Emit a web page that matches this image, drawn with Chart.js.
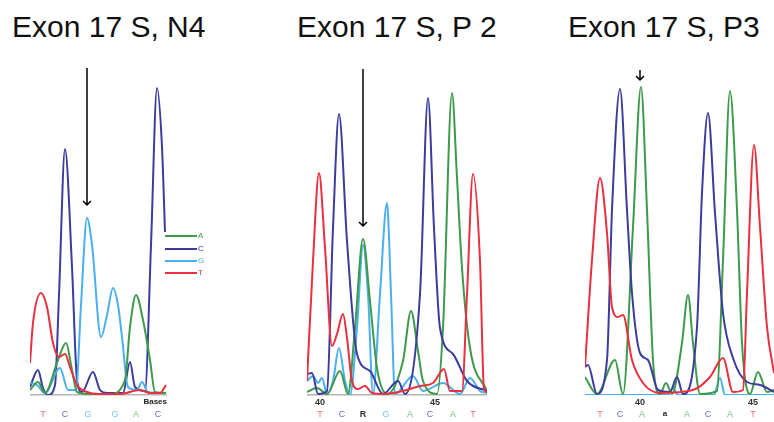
<!DOCTYPE html>
<html>
<head>
<meta charset="utf-8">
<script src="https://cdn.jsdelivr.net/npm/chart.js@4/dist/chart.umd.min.js"></script>
<style>
  body { margin: 0; background: #fff; }
  #wrap { position: relative; width: 774px; height: 422px; overflow: hidden; background: #fff; }
  .title { position: absolute; top: 12px; font: 30px "Liberation Sans", Arial, sans-serif; line-height: 30px; color: #111; white-space: nowrap; }
  canvas { position: absolute; top: 60px; }
  .lg { position: absolute; left: 165px; width: 32px; height: 2px; }
  .lgt { position: absolute; left: 198px; font: 8px "Liberation Sans", Arial, sans-serif; line-height: 8px; }
</style>
</head>
<body>
<div id="wrap">
  <div class="title" style="left:12px">Exon 17 S, N4</div>
  <div class="title" style="left:297px">Exon 17 S, P 2</div>
  <div class="title" style="left:568px">Exon 17 S, P3</div>
  <canvas id="p1" width="137" height="362" style="left:30px"></canvas>
  <canvas id="p2" width="180" height="362" style="left:307px"></canvas>
  <canvas id="p3" width="189" height="362" style="left:585px"></canvas>
  <div id="legend"></div>
</div>
<script>
// trace colours per base
const baseNames = ['A', 'C', 'G', 'T'];
const colA = '#3d9a4a', colC = '#3c3c9c', colG = '#4ab0ef', colT = '#e8303e';

// ---- panel 1: Exon 17 S, N4 (x = scan position, y = signal) ----
const n4_A_x = [30, 38, 45, 58, 66, 72, 77, 90, 110, 125, 130, 136, 143, 150, 155, 166];
const n4_A_y = [5, 13, 2, 35, 52, 25, 3, 1, 1, 15, 68, 100, 75, 35, 3, 2];
const n4_C_x = [30, 38, 43, 48, 55, 59, 65, 72, 77, 82, 93, 100, 107, 123, 130, 135, 145, 151, 157, 162, 165];
const n4_C_y = [8, 25, 7, 0, 10, 100, 246, 128, 15, 3, 23, 5, 2, 2, 33, 8, 4, 150, 307, 248, 163];
const n4_G_x = [30, 37, 45, 60, 68, 76, 81, 87, 92, 101, 107, 113, 118, 122, 128, 137, 142, 148, 166];
const n4_G_y = [12, 10, 2, 27, 5, 5, 90, 177, 150, 58, 80, 107, 90, 58, 8, 5, 13, 3, 2];
const n4_T_x = [30, 33, 41, 47, 53, 59, 65, 70, 77, 87, 100, 120, 140, 150, 160, 166];
const n4_T_y = [32, 72, 102, 88, 52, 38, 41, 28, 10, 3, 1, 1, 5, 2, 2, 10];
const n4_calls = ['T', 'C', 'G', 'G', 'A', 'C'];
const n4_callPos = [43, 65, 88, 115, 136, 158];

// ---- panel 2: Exon 17 S, P 2 ----
const p2_A_x = [307, 317, 327, 340, 348, 355, 363, 370, 377, 387, 403, 411, 418, 423, 437, 443, 452, 457, 462, 470, 487];
const p2_A_y = [3, 7, 1, 24, 1, 67, 156, 94, 27, 1, 34, 84, 44, 14, 1, 67, 302, 217, 127, 47, 4];
const p2_C_x = [307, 312, 318, 327, 333, 339, 347, 357, 370, 383, 398, 405, 420, 428, 434, 440, 453, 467, 487];
const p2_C_y = [21, 22, 1, 4, 167, 281, 154, 41, 24, 1, 14, 1, 101, 297, 167, 67, 41, 14, 4];
const p2_G_x = [307, 313, 318, 322, 327, 333, 339, 345, 350, 357, 363, 368, 373, 380, 387, 391, 395, 413, 423, 443, 460, 470, 480, 487];
const p2_G_y = [14, 19, 12, 17, 1, 14, 47, 14, 0, 67, 150, 101, 1, 101, 192, 101, 1, 19, 4, 12, 1, 17, 4, 2];
const p2_T_x = [307, 313, 319, 325, 332, 337, 343, 347, 352, 358, 365, 372, 385, 403, 420, 433, 444, 450, 462, 467, 473, 480, 484, 487];
const p2_T_y = [14, 134, 222, 147, 49, 61, 81, 57, 14, 6, 9, 2, 1, 4, 9, 12, 26, 4, 4, 101, 221, 134, 6, 3];
const p2_calls = ['T', 'C', 'R', 'G', 'A', 'C', 'A', 'T'];
const p2_callPos = [320, 342, 363, 386, 410, 430, 453, 473];
const p2_tickLabels = ['40', '45'];
const p2_tickPos = [320, 435];

// ---- panel 3: Exon 17 S, P3 ----
const p3_A_x = [585, 597, 615, 623, 633, 641, 647, 653, 660, 666, 672, 682, 688, 693, 700, 717, 723, 730, 737, 742, 750, 758, 767, 774];
const p3_A_y = [18, 1, 35, 1, 168, 308, 185, 35, 1, 12, 1, 52, 100, 52, 1, 4, 135, 304, 185, 52, 1, 23, 3, 5];
const p3_C_x = [585, 588, 597, 607, 612, 620, 627, 632, 640, 648, 658, 670, 677, 683, 697, 702, 708, 715, 723, 733, 747, 760, 774];
const p3_C_y = [28, 30, 1, 35, 185, 306, 185, 102, 42, 35, 5, 3, 18, 1, 68, 202, 282, 182, 82, 37, 13, 10, 3];
const p3_G_x = [585, 668, 673, 678, 714, 720, 725, 774];
const p3_G_y = [0, 0, 7, 0, 0, 17, 0, 0];
const p3_T_x = [585, 592, 600, 607, 612, 618, 623, 632, 643, 660, 693, 710, 723, 733, 743, 747, 754, 760, 767, 774];
const p3_T_y = [28, 135, 217, 162, 88, 78, 80, 35, 12, 2, 5, 18, 37, 3, 5, 102, 250, 168, 68, 22];
const p3_calls = ['T', 'C', 'A', 'a', 'A', 'C', 'A', 'T'];
const p3_callPos = [600, 620, 642, 665, 687, 708, 730, 753];
const p3_tickLabels = ['40', '45'];
const p3_tickPos = [640, 753];

// arrows marking the variant position: [x, start signal, tip signal]
const arrowN4 = [87, 327, 190];
const arrowP2 = [363, 326, 169];
const arrowP3 = [640, 325, 315];

const callColours = { A: '#6fbf78', C: '#6c6cc0', G: '#7cc6f2', T: '#ef6b76', R: '#333', a: '#222' };
const fontFam = '"Liberation Sans", Arial, sans-serif';

function toPoints(xs, ys) {
  return xs.map((x, i) => ({ x: x, y: ys[i] }));
}

function trace(label, xs, ys, colour) {
  return {
    label: label,
    data: toPoints(xs, ys),
    borderColor: colour,
    borderWidth: 2,
    pointRadius: 0,
    fill: false,
    cubicInterpolationMode: 'monotone',
  };
}

const arrowPlugin = {
  id: 'arrowMark',
  afterDraw(chart, args, opts) {
    if (!opts.at) return;
    const [x, from, to] = opts.at;
    const px = chart.scales.x.getPixelForValue(x);
    const y1 = chart.scales.y.getPixelForValue(from);
    const y2 = chart.scales.y.getPixelForValue(to);
    const ctx = chart.ctx;
    ctx.save();
    ctx.strokeStyle = '#000';
    ctx.lineWidth = 1.5;
    ctx.beginPath();
    ctx.moveTo(px, y1);
    ctx.lineTo(px, y2);
    ctx.moveTo(px - 4, y2 - 4);
    ctx.lineTo(px, y2);
    ctx.lineTo(px + 4, y2 - 4);
    ctx.stroke();
    ctx.restore();
  }
};

function makePanel(id, xMin, xMax, traces, calls, callPos, tickLabels, tickPos, arrow, extra) {
  new Chart(document.getElementById(id), {
    type: 'line',
    data: { datasets: traces },
    plugins: [arrowPlugin],
    options: {
      responsive: false,
      animation: false,
      events: [],
      layout: { padding: 0, autoPadding: false },
      plugins: {
        legend: { display: false },
        tooltip: { enabled: false },
        arrowMark: { at: arrow },
      },
      scales: {
        y: { display: false, min: 0, max: 335 },
        x: {
          type: 'linear', min: xMin, max: xMax, position: 'bottom', weight: 0,
          grid: { display: false, drawTicks: false },
          border: { display: extra.border, color: '#b4b4b4', width: 1.5 },
          ticks: {
            display: tickLabels.length > 0,
            padding: 2, autoSkip: false, maxRotation: 0, color: '#333',
            font: { family: fontFam, size: 9, weight: 'bold' },
            callback: (v, i) => tickLabels[i],
          },
          title: {
            display: !!extra.axisTitle, text: extra.axisTitle || '', align: 'end',
            color: '#222', padding: 0, font: { family: fontFam, size: 8, weight: 'bold' },
          },
          afterBuildTicks: s => { s.ticks = tickPos.map(v => ({ value: v })); },
          afterFit: s => { s.height = 12; },
        },
        calls: {
          type: 'linear', min: xMin, max: xMax, position: 'bottom', weight: 1,
          grid: { display: false, drawTicks: false },
          border: { display: false },
          ticks: {
            padding: 2, autoSkip: false, maxRotation: 0,
            color: c => callColours[calls[c.index]],
            font: c => ({ family: fontFam, size: calls[c.index] === 'a' ? 8 : 9, weight: calls[c.index] === 'R' || calls[c.index] === 'a' ? 'bold' : 'normal' }),
            callback: (v, i) => calls[i],
          },
          afterBuildTicks: s => { s.ticks = callPos.map(v => ({ value: v })); },
          afterFit: s => { s.height = 15; },
        },
      },
    },
  });
}

makePanel('p1', 30, 167, [
  trace('T', n4_T_x, n4_T_y, colT),
  trace('A', n4_A_x, n4_A_y, colA),
  trace('G', n4_G_x, n4_G_y, colG),
  trace('C', n4_C_x, n4_C_y, colC),
], n4_calls, n4_callPos, [], [], arrowN4, { border: true, axisTitle: 'Bases' });

makePanel('p2', 307, 487, [
  trace('T', p2_T_x, p2_T_y, colT),
  trace('C', p2_C_x, p2_C_y, colC),
  trace('A', p2_A_x, p2_A_y, colA),
  trace('G', p2_G_x, p2_G_y, colG),
], p2_calls, p2_callPos, p2_tickLabels, p2_tickPos, arrowP2, { border: true });

makePanel('p3', 585, 774, [
  trace('T', p3_T_x, p3_T_y, colT),
  trace('C', p3_C_x, p3_C_y, colC),
  trace('A', p3_A_x, p3_A_y, colA),
  trace('G', p3_G_x, p3_G_y, colG),
], p3_calls, p3_callPos, p3_tickLabels, p3_tickPos, arrowP3, { border: false });

// small trace key next to panel 1
const legendTops = [235, 248, 260, 272];
const legendCols = [colA, colC, colG, colT];
const lg = document.getElementById('legend');
baseNames.forEach((b, i) => {
  const line = document.createElement('div');
  line.className = 'lg';
  line.style.top = legendTops[i] + 'px';
  line.style.background = legendCols[i];
  lg.appendChild(line);
  const t = document.createElement('div');
  t.className = 'lgt';
  t.style.top = (legendTops[i] - 3) + 'px';
  t.style.color = legendCols[i];
  t.textContent = b;
  lg.appendChild(t);
});
</script>
</body>
</html>
